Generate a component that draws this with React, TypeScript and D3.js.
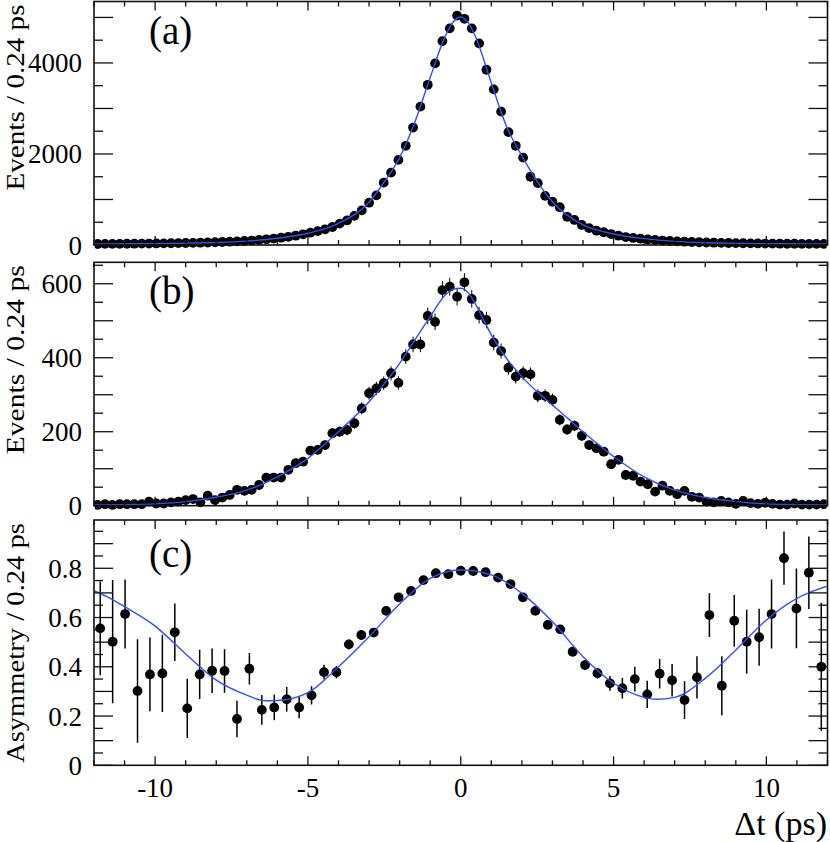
import React from 'react';
import * as d3 from 'd3';

// ---------- data ----------
const X_MIN = -12;
const X_MAX = 12;

// panel (a): events per 0.24 ps, 100 bins
const countsA = [
  22, 24, 25, 26, 27, 29, 30, 32, 34, 36, 38, 41, 44, 47, 51, 55, 60, 66, 72, 80,
  88, 98, 110, 125, 142, 160, 180, 205, 235, 270, 305, 345, 395, 470, 540, 640, 760, 930, 1090, 1370,
  1590, 1870, 2180, 2580, 3040, 3520, 3990, 4480, 4760, 5040, 4970, 4760, 4430, 3850, 3420, 2930, 2480, 2180, 1920, 1500,
  1360, 1080, 950, 830, 620, 550, 440, 370, 315, 280, 240, 205, 175, 155, 138, 122, 110, 98, 88, 80,
  72, 66, 60, 55, 51, 47, 44, 41, 38, 36, 34, 32, 30, 29, 28, 27, 26, 25, 24, 23,
];

// panel (b): events per 0.24 ps, 100 bins
const countsB = [
  2, 4, 2, 4, 4, 4, 4, 11, 6, 6, 9, 11, 15, 18, 9, 27, 15, 22, 29, 43,
  40, 43, 56, 76, 76, 76, 97, 115, 119, 149, 151, 164, 196, 200, 205, 223, 263, 304, 317, 331,
  358, 332, 403, 436, 436, 513, 497, 583, 592, 565, 604, 559, 515, 502, 441, 418, 373, 349, 358, 355,
  297, 297, 286, 232, 206, 216, 189, 164, 155, 146, 112, 124, 83, 81, 65, 58, 38, 54, 40, 31,
  40, 24, 22, 11, 9, 13, 9, 5, 13, 7, 5, 8, 5, 3, 3, 6, 3, 3, 3, 4,
];

// panel (c): asymmetry, 59 bins
const asymC = [
  0.556, 0.502, 0.614, 0.302, 0.369, 0.373, 0.540, 0.231, 0.369, 0.384,
  0.383, 0.188, 0.392, 0.225, 0.235, 0.268, 0.235, 0.284, 0.378, 0.378,
  0.491, 0.529, 0.539, 0.627, 0.682, 0.708, 0.752, 0.780, 0.776, 0.790,
  0.789, 0.784, 0.762, 0.736, 0.682, 0.627, 0.570, 0.552, 0.461, 0.407,
  0.374, 0.333, 0.313, 0.350, 0.288, 0.372, 0.345, 0.265, 0.357, 0.610,
  0.323, 0.587, 0.502, 0.520, 0.614, 0.841, 0.637, 0.782, 0.400,
];
const asymErrC = [
  0.19, 0.25, 0.14, 0.21, 0.15, 0.157, 0.117, 0.12, 0.10, 0.09,
  0.088, 0.074, 0.064, 0.06, 0.052, 0.05, 0.044, 0.037, 0.03, 0.025,
  0.02, 0.02, 0.018, 0.015, 0.014, 0.012, 0.012, 0.011, 0.011, 0.011,
  0.011, 0.011, 0.012, 0.012, 0.013, 0.014, 0.015, 0.016, 0.018, 0.02,
  0.022, 0.03, 0.042, 0.05, 0.055, 0.06, 0.066, 0.077, 0.086, 0.089,
  0.12, 0.105, 0.13, 0.116, 0.14, 0.108, 0.162, 0.147, 0.26,
];

// fitted curves
const fitAT = [-12, -11, -10, -9, -8, -7, -6, -5, -4, -3, -2.5, -2, -1.5, -1, -0.5, -0.25, 0, 0.25, 0.5, 1, 1.5, 2, 2.5, 3, 4, 5, 6, 7, 8, 9, 10, 11, 12];
const fitAV = [24, 27, 32, 40, 55, 85, 147, 257, 477, 940, 1390, 1920, 2700, 3680, 4600, 4900, 5010, 4880, 4550, 3560, 2600, 1960, 1400, 950, 440, 242, 140, 80, 50, 38, 30, 26, 24];

const fitBT = [-12, -11, -10, -9, -8, -7, -6, -5, -4, -3, -2, -1.5, -1, -0.5, -0.25, 0, 0.25, 0.5, 1, 1.5, 2, 2.5, 3, 3.5, 4, 5, 6, 7, 8, 9, 10, 11, 12];
const fitBV = [2, 3, 5, 11, 23, 42, 78, 128, 200, 281, 385, 448, 511, 570, 585, 588, 575, 542, 462, 398, 349, 308, 272, 236, 200, 133, 78, 42, 22, 11, 5, 3, 2];

const fitCT = [-12, -11.5, -11, -10, -9, -8, -7, -6.4, -6, -5, -4, -3, -2, -1, 0, 1, 2, 3, 4, 5, 6, 6.4, 7, 8, 9, 10, 11, 11.5, 12];
const fitCV = [0.709, 0.68, 0.644, 0.565, 0.452, 0.346, 0.285, 0.262, 0.263, 0.295, 0.40, 0.522, 0.655, 0.759, 0.793, 0.773, 0.698, 0.583, 0.441, 0.333, 0.276, 0.268, 0.276, 0.353, 0.468, 0.59, 0.678, 0.706, 0.728];

// axis ticks and labels
const xMajor = [-10, -5, 0, 5, 10];
const xMinor = d3.range(-12, 13, 1);
const xLabels = ['-10', '-5', '0', '5', '10'];

const yMajorA = [0, 1000, 2000, 3000, 4000, 5000];
const yMinorA = [500, 1500, 2500, 3500, 4500];
const yLabelsA = [0, 2000, 4000];

const yMajorB = [0, 100, 200, 300, 400, 500, 600];
const yMinorB = [50, 150, 250, 350, 450, 550, 650];
const yLabelsB = [0, 200, 400, 600];

const yMajorC = [0, 0.1, 0.2, 0.3, 0.4, 0.5, 0.6, 0.7, 0.8, 0.9];
const yMinorC = [0.05, 0.15, 0.25, 0.35, 0.45, 0.55, 0.65, 0.75, 0.85, 0.95];
const yLabelsC = [0, 0.2, 0.4, 0.6, 0.8];

// ---------- layout ----------
const W = 830;
const H = 842;
const LEFT = 94;
const RIGHT = 827.5;
const FONT = '"Liberation Serif", "Times New Roman", Times, serif';
const BLUE = '#3050f0';

const x = d3.scaleLinear().domain([X_MIN, X_MAX]).range([LEFT, RIGHT]);

type PanelDef = {
  id: string;
  top: number;
  bottom: number;
  yMax: number;
  major: number[];
  minor: number[];
  labels: number[];
  fmt: (v: number) => string;
  title: string;
  titleLen: number;
  tag: string;
  tagY: number;
};

const panels: PanelDef[] = [
  { id: 'a', top: 1.5, bottom: 245, yMax: 5350, major: yMajorA, minor: yMinorA, labels: yLabelsA, fmt: (v) => String(v), title: 'Events / 0.24 ps', titleLen: 186, tag: '(a)', tagY: 44 },
  { id: 'b', top: 262.3, bottom: 505.7, yMax: 658, major: yMajorB, minor: yMinorB, labels: yLabelsB, fmt: (v) => String(v), title: 'Events / 0.24 ps', titleLen: 189, tag: '(b)', tagY: 304 },
  { id: 'c', top: 520, bottom: 765.3, yMax: 0.996, major: yMajorC, minor: yMinorC, labels: yLabelsC, fmt: (v) => (v === 0 ? '0' : String(v)), title: 'Asymmetry / 0.24 ps', titleLen: 240, tag: '(c)', tagY: 567 },
];

function centres(n: number) {
  const w = (X_MAX - X_MIN) / n;
  return d3.range(n).map((i) => X_MIN + (i + 0.5) * w);
}

function Frame({ p, y, showXLabels }: { p: PanelDef; y: d3.ScaleLinear<number, number>; showXLabels: boolean }) {
  const ML = 19, ml = 9, XM = 9, xm = 5;
  return (
    <g>
      {p.major.map((v) => (
        <g key={'M' + v}>
          <line x1={LEFT} x2={LEFT + ML} y1={y(v)} y2={y(v)} stroke="#111" strokeWidth={1.3} />
          <line x1={RIGHT - ML} x2={RIGHT} y1={y(v)} y2={y(v)} stroke="#111" strokeWidth={1.3} />
        </g>
      ))}
      {p.minor.map((v) => (
        <g key={'m' + v}>
          <line x1={LEFT} x2={LEFT + ml} y1={y(v)} y2={y(v)} stroke="#111" strokeWidth={1.3} />
          <line x1={RIGHT - ml} x2={RIGHT} y1={y(v)} y2={y(v)} stroke="#111" strokeWidth={1.3} />
        </g>
      ))}
      {xMinor.map((t) => {
        const len = xMajor.includes(t) ? XM : xm;
        return (
          <g key={'x' + t}>
            <line x1={x(t)} x2={x(t)} y1={p.bottom} y2={p.bottom - len} stroke="#111" strokeWidth={1.3} />
            <line x1={x(t)} x2={x(t)} y1={p.top} y2={p.top + len} stroke="#111" strokeWidth={1.3} />
          </g>
        );
      })}
      <rect x={LEFT} y={p.top} width={RIGHT - LEFT} height={p.bottom - p.top} fill="none" stroke="#111" strokeWidth={1.6} />
      {p.labels.map((v) => (
        <text key={'l' + v} x={82} y={y(v) + 9.5} textAnchor="end" fontFamily={FONT} fontSize={27} fill="#000">
          {p.fmt(v)}
        </text>
      ))}
      {showXLabels &&
        xMajor.map((t, i) => (
          <text key={'xl' + t} x={x(t)} y={797} textAnchor="middle" fontFamily={FONT} fontSize={27} fill="#000">
            {xLabels[i]}
          </text>
        ))}
      <text
        transform={`translate(23.5, ${p.top + 3}) rotate(-90)`}
        textAnchor="end"
        fontFamily={FONT}
        fontSize={26}
        textLength={p.titleLen}
        lengthAdjust="spacingAndGlyphs"
        fill="#000"
      >
        {p.title}
      </text>
      <text x={149} y={p.tagY} fontFamily={FONT} fontSize={39} fill="#000">
        {p.tag}
      </text>
    </g>
  );
}

export default function App() {
  const [pa, pb, pc] = panels;
  const yA = d3.scaleLinear().domain([0, pa.yMax]).range([pa.bottom, pa.top]);
  const yB = d3.scaleLinear().domain([0, pb.yMax]).range([pb.bottom, pb.top]);
  const yC = d3.scaleLinear().domain([0, pc.yMax]).range([pc.bottom, pc.top]);

  const cAB = centres(countsA.length);
  const cC = centres(asymC.length);

  const lineA = d3.line<number>().x((_, i) => x(fitAT[i])).y((v) => yA(v)).curve(d3.curveMonotoneX);
  const lineB = d3.line<number>().x((_, i) => x(fitBT[i])).y((v) => yB(v)).curve(d3.curveMonotoneX);
  const lineC = d3.line<number>().x((_, i) => x(fitCT[i])).y((v) => yC(v)).curve(d3.curveMonotoneX);

  const R = 4.9;

  return (
    <svg width={W} height={H} style={{ position: 'absolute', left: 0, top: 0, background: '#fff' }}>
      <defs>
        <clipPath id="clipX">
          <rect x={LEFT + 0.8} y={0} width={RIGHT - LEFT - 1.6} height={H} />
        </clipPath>
      </defs>
      <rect x={0} y={0} width={W} height={H} fill="#fff" />

      <g clipPath="url(#clipX)">
        {countsA.map((v, i) => (
          <g key={'a' + i}>
            <line x1={x(cAB[i])} x2={x(cAB[i])} y1={yA(v + Math.sqrt(v))} y2={yA(Math.max(0, v - Math.sqrt(v)))} stroke="#000" strokeWidth={1} />
            <circle cx={x(cAB[i])} cy={yA(v)} r={R} fill="#000" />
          </g>
        ))}
        <path d={lineA(fitAV) || ''} fill="none" stroke={BLUE} strokeWidth={1.4} />
      </g>
      <Frame p={pa} y={yA} showXLabels={false} />

      <g clipPath="url(#clipX)">
        {countsB.map((v, i) => (
          <g key={'b' + i}>
            <line x1={x(cAB[i])} x2={x(cAB[i])} y1={yB(v + Math.sqrt(v))} y2={yB(Math.max(0, v - Math.sqrt(v)))} stroke="#000" strokeWidth={1} />
            <circle cx={x(cAB[i])} cy={yB(v)} r={R} fill="#000" />
          </g>
        ))}
        <path d={lineB(fitBV) || ''} fill="none" stroke={BLUE} strokeWidth={1.4} />
      </g>
      <Frame p={pb} y={yB} showXLabels={false} />

      <g clipPath="url(#clipX)">
        {asymC.map((v, i) => (
          <g key={'c' + i}>
            <line x1={x(cC[i])} x2={x(cC[i])} y1={yC(v + asymErrC[i])} y2={yC(v - asymErrC[i])} stroke="#000" strokeWidth={1.5} />
            <circle cx={x(cC[i])} cy={yC(v)} r={R} fill="#000" />
          </g>
        ))}
        <path d={lineC(fitCV) || ''} fill="none" stroke={BLUE} strokeWidth={1.4} />
      </g>
      <Frame p={pc} y={yC} showXLabels={true} />

      <text x={827} y={835} textAnchor="end" fontFamily={FONT} fontSize={34} fill="#000">
        Δt (ps)
      </text>
    </svg>
  );
}
